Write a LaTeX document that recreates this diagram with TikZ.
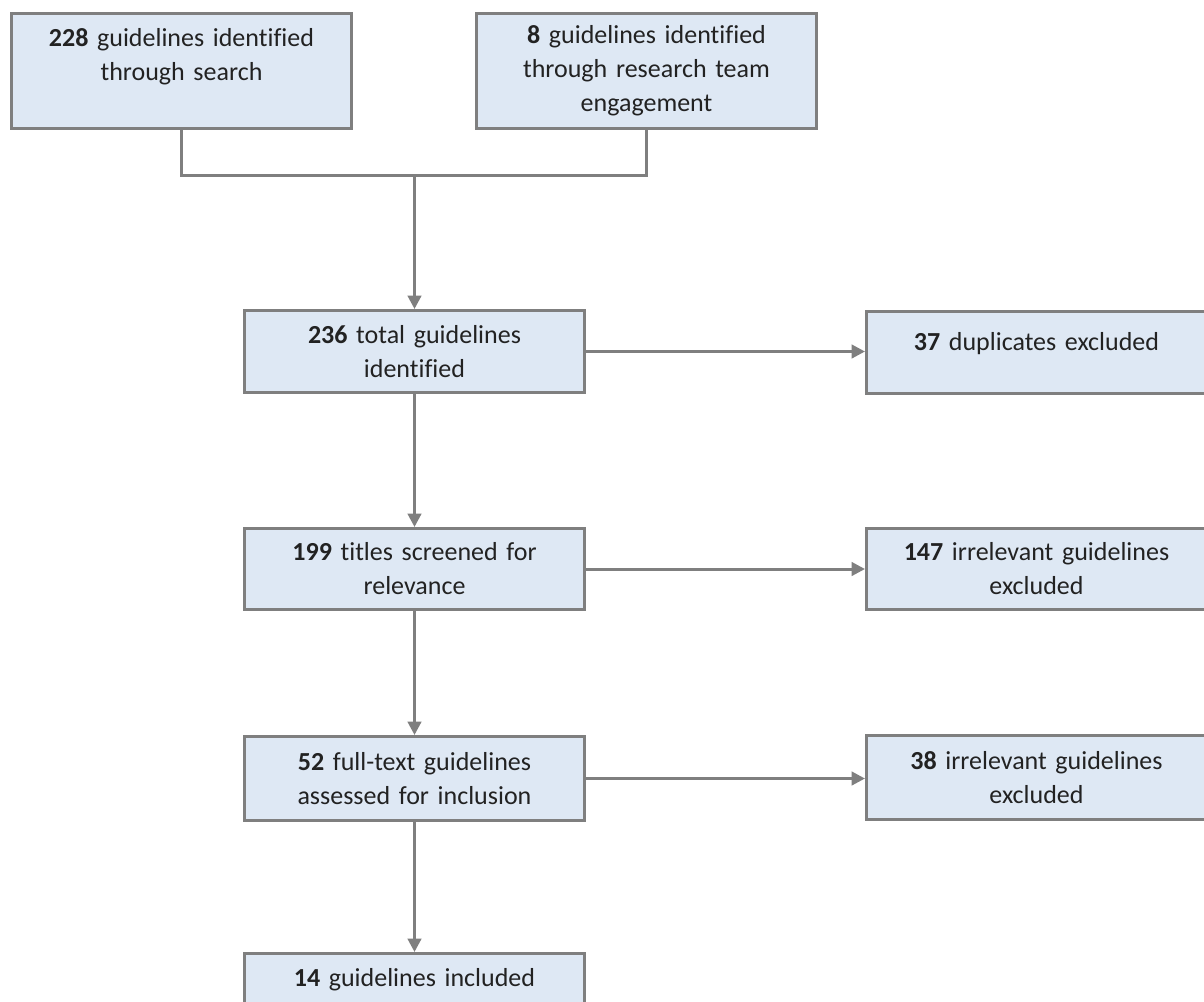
\documentclass[tikz,border=0pt]{standalone}
\usepackage{fontspec}
\setmainfont{Carlito}[Ligatures=CommonOff]
\usetikzlibrary{arrows.meta}
\definecolor{boxfill}{HTML}{DEE8F4}
\definecolor{linegray}{HTML}{7F7F7F}
\definecolor{ink}{HTML}{222222}
% lift a single line inside a box without changing its measured size
\newcommand{\liftline}[2]{\raisebox{#1}[\height][\depth]{#2}}
\begin{document}
\begin{tikzpicture}[x=0.75pt,y=-0.75pt,
  box/.style={draw=linegray, line width=2.25pt, fill=boxfill,
    minimum width=255pt, inner sep=0pt, text width=245pt, align=center,
    anchor=north west, text=ink, font=\fontsize{19.5}{25.5}\selectfont},
  conn/.style={draw=linegray, line width=2.25pt},
  arr/.style={conn, -{Triangle[width=10pt,length=10pt]}}]
\clip (0,0) rectangle (1204,1001);
\useasboundingbox (0,0) rectangle (1204,1001);
\fill[white] (0,0) rectangle (1204,1001);

% sources
\node[box, minimum height=86.25pt] (b1) at (10,12)
  {\textbf{228} guidelines identified\\ through search\\ \mbox{}};
\node[box, minimum height=86.25pt] (b2) at (475,12)
  {\textbf{8} guidelines identified\\ through research team\\ engagement};

% main stream
\node[box, minimum height=61.5pt] (b3) at (243,309)
  {\textbf{236} total guidelines\\ identified};
\node[box, minimum height=60.75pt] (b5) at (243,527)
  {\textbf{199} titles screened for\\ relevance};
\node[box, minimum height=63pt] (b7) at (243,735)
  {\textbf{52} full-text guidelines\\ assessed for inclusion};
\node[box, minimum height=61.5pt] (b9) at (243,952)
  {\liftline{11.25pt}{\textbf{14} guidelines included}};

% exclusions
\node[box, minimum height=61.5pt] (b4) at (865,310)
  {\liftline{6.5pt}{\textbf{37} duplicates excluded}};
\node[box, minimum height=60.75pt] (b6) at (865,527)
  {\textbf{147} irrelevant guidelines\\ excluded};
\node[box, minimum height=63pt] (b8) at (865,734)
  {\textbf{38} irrelevant guidelines\\ excluded};

% merging the two sources
\coordinate (j) at (b3.north |- 0,175);
\draw[conn] (b1.south) |- (b2.south |- j) -- (b2.south);
\draw[arr] (j) -- (b3.north);

\draw[arr] (b3.south) -- (b5.north);
\draw[arr] (b5.south) -- (b7.north);
\draw[arr] (b7.south) -- (b9.north);

\draw[arr] (b3.east) -- (b3.east -| b4.west);
\draw[arr] (b5.east) -- (b5.east -| b6.west);
\draw[arr] (b7.east) -- (b7.east -| b8.west);
\end{tikzpicture}
\end{document}
